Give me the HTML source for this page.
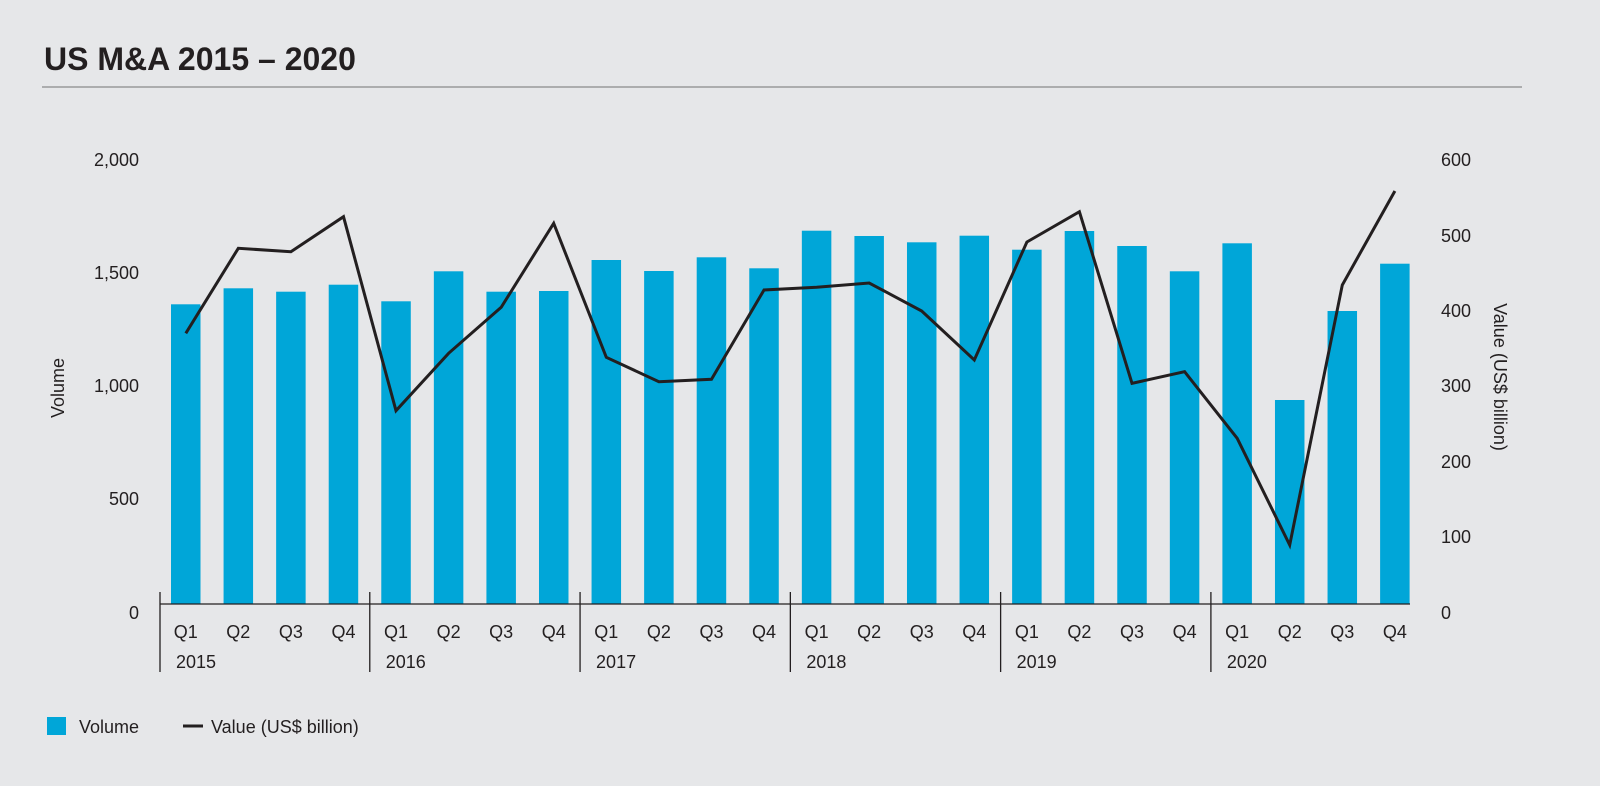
<!DOCTYPE html>
<html><head><meta charset="utf-8"><style>
html,body{margin:0;padding:0;background:#e6e7e9;}
svg{display:block;font-family:"Liberation Sans",Arial,sans-serif;}
</style></head><body>
<svg width="1600" height="786" viewBox="0 0 1600 786" xmlns="http://www.w3.org/2000/svg">
<rect width="1600" height="786" fill="#e6e7e9"/>
<text x="44" y="70" font-size="32" font-weight="bold" fill="#231f20">US M&amp;A 2015 – 2020</text>
<line x1="42" y1="87" x2="1522" y2="87" stroke="#8a8a8c" stroke-width="1.2"/>
<g font-size="18" fill="#231f20" text-anchor="end">
<text x="139" y="166">2,000</text>
<text x="139" y="279">1,500</text>
<text x="139" y="392">1,000</text>
<text x="139" y="505">500</text>
<text x="139" y="619">0</text>
</g>
<g font-size="18" fill="#231f20">
<text x="1441" y="166">600</text>
<text x="1441" y="242">500</text>
<text x="1441" y="317">400</text>
<text x="1441" y="392">300</text>
<text x="1441" y="468">200</text>
<text x="1441" y="543">100</text>
<text x="1441" y="619">0</text>
</g>
<text transform="translate(64,388) rotate(-90)" font-size="18" fill="#231f20" text-anchor="middle">Volume</text>
<text transform="translate(1494,377) rotate(90)" font-size="18" fill="#231f20" text-anchor="middle">Value (US$ billion)</text>
<g fill="#00a6d8" id="bars"></g>
<g stroke="#231f20" stroke-width="1.3" id="axes">
<line x1="160" y1="604" x2="1410" y2="604"/>
</g>
<polyline id="ln" fill="none" stroke="#231f20" stroke-width="3" stroke-linejoin="miter"/>
<g id="lbl" font-size="18" fill="#231f20"></g>
<rect x="47" y="717" width="19" height="18" fill="#00a6d8"/>
<text x="79" y="733" font-size="18" fill="#231f20">Volume</text>
<line x1="183" y1="726" x2="203" y2="726" stroke="#231f20" stroke-width="3"/>
<text x="211" y="733" font-size="18" fill="#231f20">Value (US$ billion)</text>
<script>
var tops=[304.3,288.3,291.7,284.7,301.3,271.3,291.7,291,260,271,257.3,268.3,230.7,236,242.3,235.7,249.7,231,246,271.3,243.3,400,311,263.7];
var ly=[333.3,248.3,251.7,216.7,410.7,353.3,307.3,223.3,357.3,381.7,379.3,290,287.3,283,311,360,242,211.7,383.3,371.7,438.3,545,285,191];
var ns="http://www.w3.org/2000/svg",b=document.getElementById('bars'),a=document.getElementById('axes'),l=document.getElementById('lbl');
var pts=[];
for(var i=0;i<24;i++){var x=171+i*52.57;
var r=document.createElementNS(ns,'rect');r.setAttribute('x',x);r.setAttribute('y',tops[i]);r.setAttribute('width',29.5);r.setAttribute('height',604-tops[i]);b.appendChild(r);
pts.push((x+14.75).toFixed(1)+','+ly[i]);
var t=document.createElementNS(ns,'text');t.setAttribute('x',x+14.75);t.setAttribute('y',638);t.setAttribute('text-anchor','middle');t.textContent='Q'+(i%4+1);l.appendChild(t);
if(i%4==0){var dx=(i==0)?160:x-11.5;var v=document.createElementNS(ns,'line');v.setAttribute('x1',dx);v.setAttribute('x2',dx);v.setAttribute('y1',592);v.setAttribute('y2',672);a.appendChild(v);
var y=document.createElementNS(ns,'text');y.setAttribute('x',dx+16);y.setAttribute('y',668);y.textContent=2015+i/4;l.appendChild(y);}
}
document.getElementById('ln').setAttribute('points',pts.join(' '));
</script>
</svg>
</body></html>
